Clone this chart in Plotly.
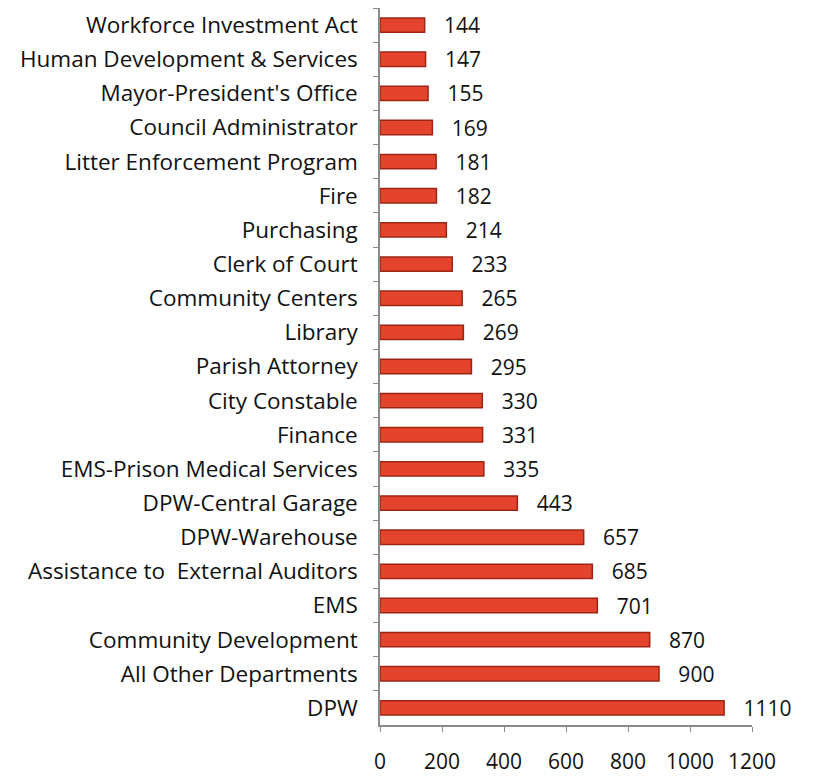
import plotly.graph_objects as go

# departments listed top to bottom as in the chart
departments = [
    "Workforce Investment Act", "Human Development & Services", "Mayor-President's Office",
    "Council Administrator", "Litter Enforcement Program", "Fire", "Purchasing",
    "Clerk of Court", "Community Centers", "Library", "Parish Attorney",
    "City Constable", "Finance", "EMS-Prison Medical Services", "DPW-Central Garage",
    "DPW-Warehouse", "Assistance to  External Auditors", "EMS",
    "Community Development", "All Other Departments", "DPW",
]
counts = [144, 147, 155, 169, 181, 182, 214, 233, 265, 269, 295,
          330, 331, 335, 443, 657, 685, 701, 870, 900, 1110]
x_ticks = [0, 200, 400, 600, 800, 1000, 1200]

font_family = "'Open Sans', Lato, sans-serif"
text_color = "#111111"

fig = go.Figure(go.Bar(
    x=counts,
    y=departments,
    orientation="h",
    width=0.42,
    marker=dict(color="#e4442c", line=dict(color="#9c2414", width=1.5)),
    text=counts,
    texttemplate="   %{text}",
    textposition="outside",
    constraintext="none",
    cliponaxis=False,
    textfont=dict(size=21, color=text_color, family=font_family),
))

fig.update_layout(
    width=813,
    height=778,
    margin=dict(l=372, r=69, t=0, b=61),
    paper_bgcolor="white",
    plot_bgcolor="white",
    showlegend=False,
    font=dict(family=font_family, size=21, color=text_color),
)

fig.update_yaxes(
    autorange="reversed",
    showline=True,
    linecolor="#8a8a8a",
    linewidth=1.5,
    ticks="outside",
    tickson="boundaries",
    ticklen=5,
    tickcolor="#8a8a8a",
    ticklabelstandoff=16,
    tickfont=dict(size=22.5),
    showgrid=False,
)

fig.update_xaxes(
    range=[0, 1200],
    tickvals=x_ticks,
    showline=True,
    linecolor="#8a8a8a",
    linewidth=1.5,
    ticks="outside",
    ticklen=5,
    tickcolor="#8a8a8a",
    ticklabelstandoff=12,
    showgrid=False,
    zeroline=False,
)

fig.write_html("out.html")
